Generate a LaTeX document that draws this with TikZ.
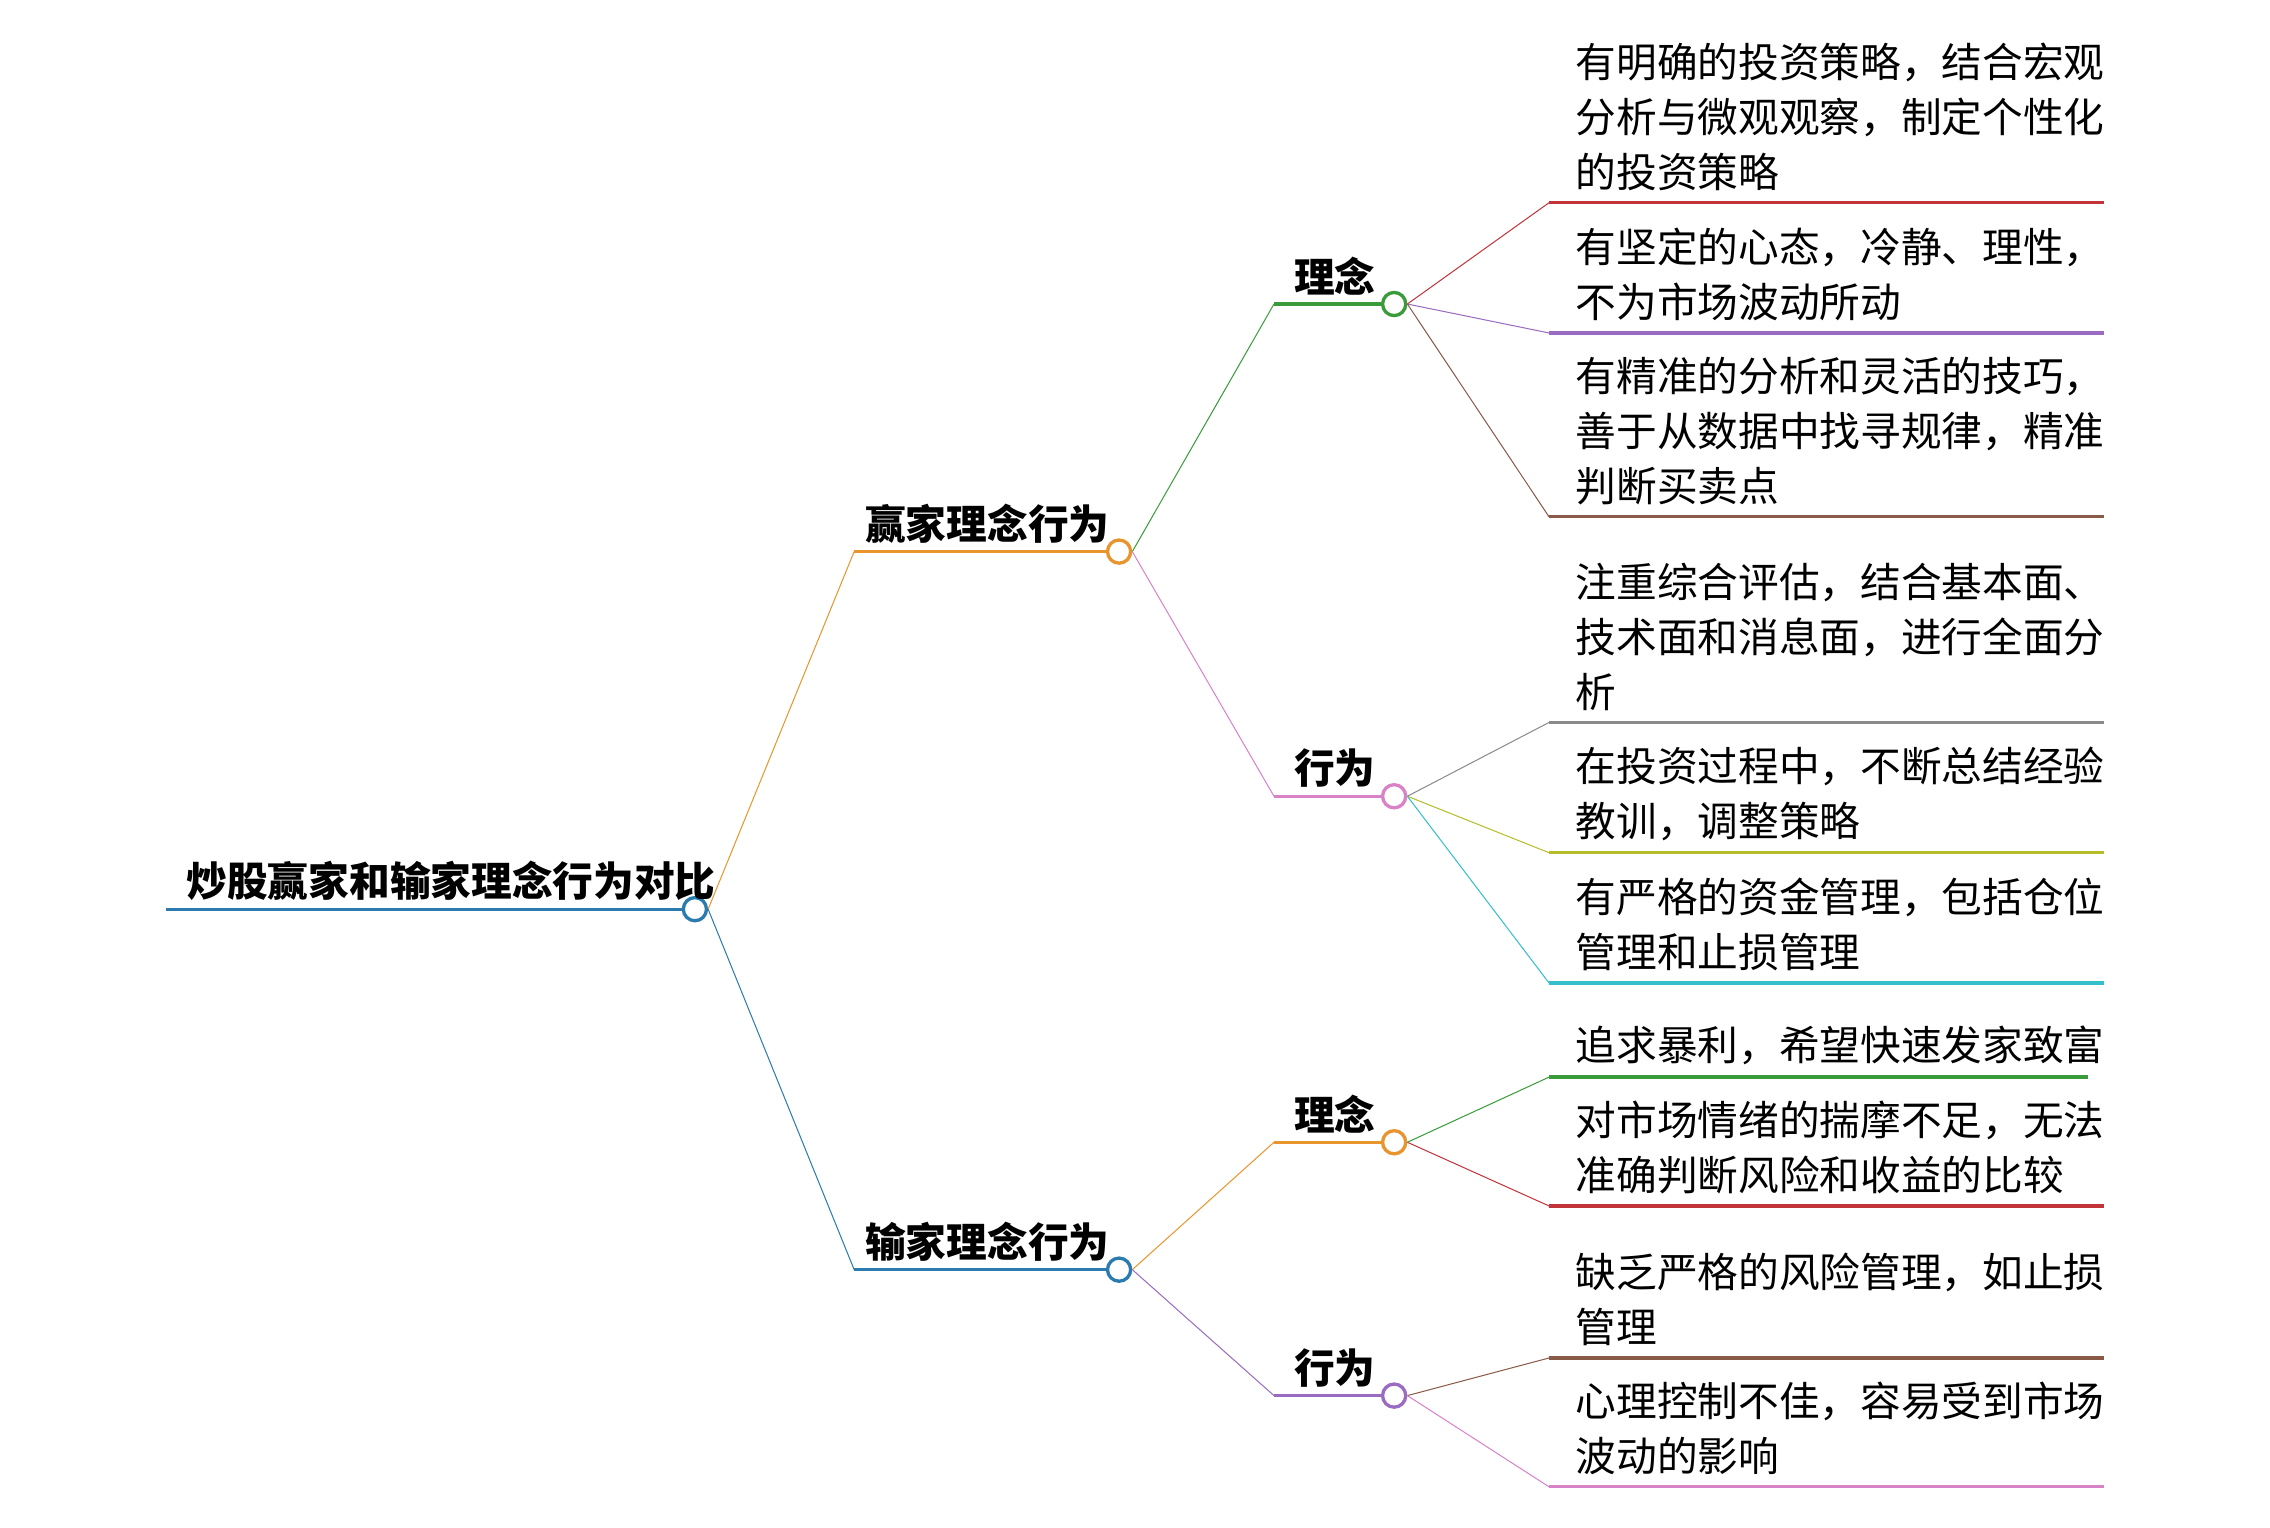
\documentclass[tikz,border=0pt]{standalone}
\usepackage{fontspec}
\setmainfont{Noto Sans CJK SC}
\usepackage{tikz}
\usetikzlibrary{positioning}
\definecolor{cblue}{HTML}{2B7BAE}
\definecolor{corange}{HTML}{E8952E}
\definecolor{cgreen}{HTML}{3A9B3A}
\definecolor{cpink}{HTML}{D882C8}
\definecolor{cpurple}{HTML}{9A6BC0}
\definecolor{cred}{HTML}{C0343A}
\definecolor{cbrown}{HTML}{8A5A48}
\definecolor{cgray}{HTML}{8A8A8A}
\definecolor{colive}{HTML}{B5BD2A}
\definecolor{ccyan}{HTML}{35BFCB}
\tikzset{
  link/.style={line width=1.3pt},
  dot/.style={circle,draw,fill=white,line width=1.3pt,minimum size=0.32cm,inner sep=0pt},
  topic/.style={font=\bfseries\fontsize{16}{20}\selectfont,anchor=south,inner sep=2pt},
  leaf/.style={anchor=south west,align=left,text width=7.4cm,inner sep=0pt,
               font=\fontsize{16}{21.6}\selectfont},
  curve/.style={link,to path={(\tikztostart) .. controls ($(\tikztostart)!0.5!(\tikztotarget)$ |- \tikztostart)
    and ($(\tikztostart)!0.5!(\tikztotarget)$ |- \tikztotarget) .. (\tikztotarget)}}
}
\usetikzlibrary{calc}
\begin{document}
\begin{tikzpicture}[x=0.02cm,y=-0.02cm]
  \useasboundingbox (0,0) rectangle (1568,1055);

  % root
  \coordinate (r0) at (115,628);
  \node[dot,draw=cblue] (r) at (480,628) {};
  \draw[link,cblue] (r0) -- (r.west);
  \node[topic,anchor=south west] at (125,626) {炒股赢家和输家理念行为对比};

  % level 1
  \coordinate (w0) at (590,381); \node[dot,draw=corange] (w) at (773,381) {};
  \coordinate (l0) at (590,877); \node[dot,draw=cblue] (l) at (773,877) {};
  \draw[corange] (r.east) to[curve] (w0); \draw[link,corange] (w0) -- (w.west);
  \draw[cblue] (r.east) to[curve] (l0); \draw[link,cblue] (l0) -- (l.west);
  \node[topic] at (682,379) {赢家理念行为};
  \node[topic] at (682,875) {输家理念行为};

  % level 2
  \foreach \n/\p/\y/\c/\t/\cc in {wa/w/210/cgreen/理念/cgreen, wb/w/550/cpink/行为/cpink,
                                 la/l/789/corange/理念/corange, lb/l/964/cpurple/行为/cpurple}{
    \coordinate (\n0) at (880,\y);
    \node[dot,draw=\cc] (\n) at (963,\y) {};
    \draw[\c] (\p.east) to[curve] (\n0);
    \draw[link,\c] (\n0) -- (\n.west);
    \node[topic] at (922,\y-2) {\t};
  }

  % leaves
  \foreach \p/\y/\c/\t in {
      wa/140/cred/{有明确的投资策略，结合宏观\\分析与微观观察，制定个性化\\的投资策略},
      wa/230/cpurple/{有坚定的心态，冷静、理性，\\不为市场波动所动},
      wa/357/cbrown/{有精准的分析和灵活的技巧，\\善于从数据中找寻规律，精准\\判断买卖点},
      wb/499/cgray/{注重综合评估，结合基本面、\\技术面和消息面，进行全面分\\析},
      wb/589/colive/{在投资过程中，不断总结经验\\教训，调整策略},
      wb/679/ccyan/{有严格的资金管理，包括仓位\\管理和止损管理},
      la/833/cred/{对市场情绪的揣摩不足，无法\\准确判断风险和收益的比较},
      lb/938/cbrown/{缺乏严格的风险管理，如止损\\管理},
      lb/1027/cpink/{心理控制不佳，容易受到市场\\波动的影响}}{
    \coordinate (e) at (1070,\y);
    \draw[\c] (\p.east) to[curve] (e);
    \draw[link,\c] (e) -- (1453,\y);
    \node[leaf] at (1088,\y-8) {\t};
  }
  \coordinate (g) at (1070,744);
  \draw[cgreen] (la.east) to[curve] (g);
  \draw[link,cgreen] (g) -- (1442,744);
  \node[leaf] at (1088,736) {追求暴利，希望快速发家致富};
\end{tikzpicture}
\end{document}
